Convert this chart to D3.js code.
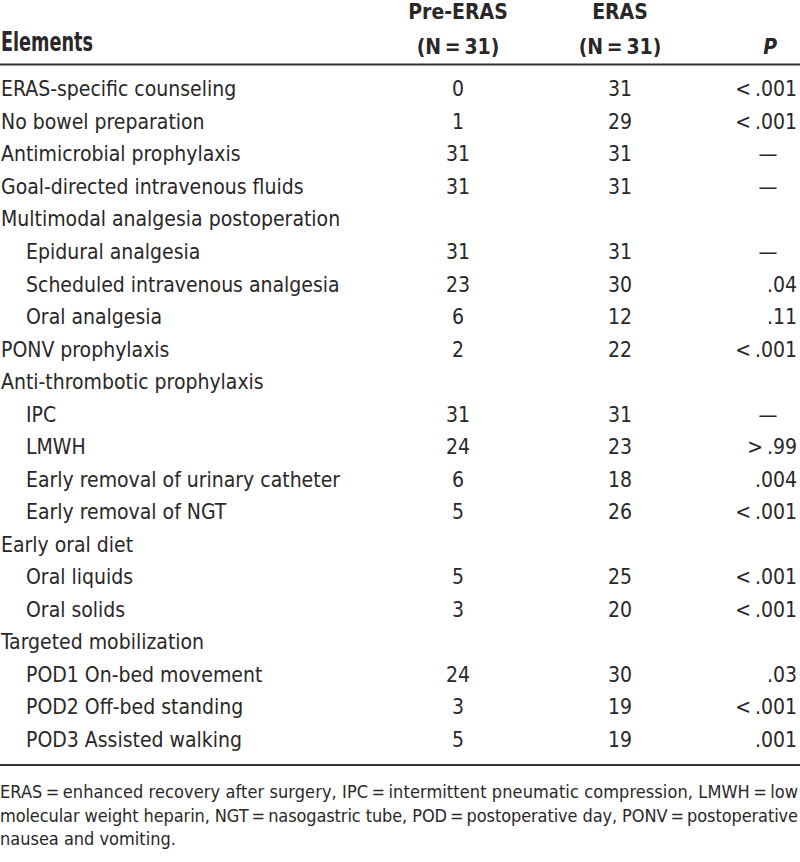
<!DOCTYPE html>
<html><head><meta charset="utf-8">
<script src="https://cdn.jsdelivr.net/npm/d3@7"></script>
<style>body{margin:0;background:#fff}svg{display:block}</style>
</head><body><div id="c"></div>
<script>
const elements = ["ERAS-specific counseling","No bowel preparation","Antimicrobial prophylaxis","Goal-directed intravenous fluids","Multimodal analgesia postoperation","Epidural analgesia","Scheduled intravenous analgesia","Oral analgesia","PONV prophylaxis","Anti-thrombotic prophylaxis","IPC","LMWH","Early removal of urinary catheter","Early removal of NGT","Early oral diet","Oral liquids","Oral solids","Targeted mobilization","POD1 On-bed movement","POD2 Off-bed standing","POD3 Assisted walking"];
const indentLevel = [0,0,0,0,0,1,1,1,0,0,1,1,1,1,0,1,1,0,1,1,1];
const preERAS = [0,1,31,31,null,31,23,6,2,null,31,24,6,5,null,5,3,null,24,3,5];
const eras = [31,29,31,31,null,31,30,12,22,null,31,23,18,26,null,25,20,null,30,19,19];
const pValues = ["<.001","<.001","—","—","","—",".04",".11","<.001","","—",">.99",".004","<.001","","<.001","<.001","",".03","<.001",".001"];
const headers = [["Elements"],["Pre-ERAS","(N\u2009=\u200931)"],["ERAS","(N\u2009=\u200931)"],["P"]];
const footnote = ["ERAS\u2009=\u2009enhanced recovery after surgery, IPC\u2009=\u2009intermittent pneumatic compression, LMWH\u2009=\u2009low",
"molecular weight heparin, NGT\u2009=\u2009nasogastric tube, POD\u2009=\u2009postoperative day, PONV\u2009=\u2009postoperative",
"nausea and vomiting."];

const W = 800, H = 862;
const FONT = "'Liberation Sans Narrow','DejaVu Sans Condensed','Roboto Condensed',sans-serif";
const ink = "#2a2728";
const svg = d3.select("#c").append("svg").attr("width", W).attr("height", H)
  .style("font-family", FONT);

const y = d3.scalePoint().domain(d3.range(elements.length)).range([89, 739.5]);
const xPre = 458, xEras = 620, xP = 797;

// header
const hg = svg.append("g").attr("fill", ink).style("font-weight", "bold").style("font-size", "21px");
hg.append("text").attr("x", 1).attr("y", 42).attr("dy", "0.35em").style("font-size", "26px")
  .attr("textLength", 92).attr("lengthAdjust", "spacingAndGlyphs").text(headers[0][0]);
[[xPre, headers[1]], [xEras, headers[2]]].forEach(([x, lines]) => {
  lines.forEach((t, i) => hg.append("text").attr("x", x).attr("y", 12 + i * 35).attr("dy", "0.35em")
    .attr("text-anchor", "middle").text(t));
});
hg.append("text").attr("x", 777).attr("y", 47).attr("dy", "0.35em").attr("text-anchor", "end")
  .style("font-style", "italic").text(headers[3][0]);

svg.append("line").attr("x1", 0).attr("x2", W).attr("y1", 64.5).attr("y2", 64.5)
  .attr("stroke", "#333").attr("stroke-width", 2);

// rows
const rows = svg.append("g").attr("fill", ink).style("font-size", "21px").selectAll("g")
  .data(elements.map((e, i) => ({e, i})))
  .join("g").attr("transform", d => `translate(0,${y(d.i)})`);
rows.append("text").attr("x", d => indentLevel[d.i] ? 26 : 1).attr("dy", "0.35em").text(d => d.e);
rows.append("text").attr("x", xPre).attr("text-anchor", "middle").attr("dy", "0.35em")
  .text(d => preERAS[d.i] == null ? "" : preERAS[d.i]);
rows.append("text").attr("x", xEras).attr("text-anchor", "middle").attr("dy", "0.35em")
  .text(d => eras[d.i] == null ? "" : eras[d.i]);
rows.append("text")
  .attr("x", d => pValues[d.i] === "—" ? 768 : xP)
  .attr("text-anchor", d => pValues[d.i] === "—" ? "middle" : "end")
  .attr("dy", "0.35em")
  .text(d => pValues[d.i].replace("<", "<\u2009").replace(">", ">\u2009"));

svg.append("line").attr("x1", 0).attr("x2", W).attr("y1", 765).attr("y2", 765)
  .attr("stroke", "#333").attr("stroke-width", 2);

// footnote
const fg = svg.append("g").attr("fill", ink).style("font-size", "18px");
footnote.forEach((t, i) => {
  const tx = fg.append("text").attr("x", 0).attr("y", 792 + i * 23.5).attr("dy", "0.35em").text(t);
  if (i < footnote.length - 1) tx.attr("textLength", 798).attr("lengthAdjust", "spacing");
});
</script></body></html>
